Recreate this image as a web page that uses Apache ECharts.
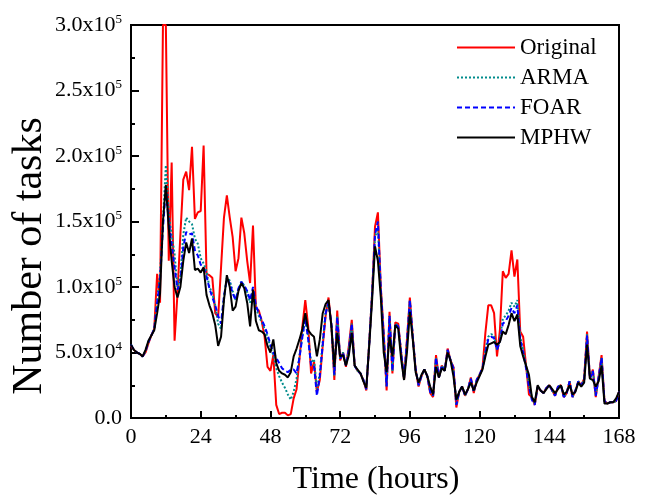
<!DOCTYPE html>
<html>
<head>
<meta charset="utf-8">
<script src="https://cdn.jsdelivr.net/npm/echarts@6/dist/echarts.min.js"></script>
<style>html,body{margin:0;padding:0;background:#fff}#c{width:648px;height:496px}</style>
</head>
<body>
<div id="c"></div>
<script>
var xTicks = [0, 24, 48, 72, 96, 120, 144, 168];
var yTickMant = ['0.0', '5.0', '1.0', '1.5', '2.0', '2.5', '3.0'];
var yTickExp = ['', '4', '5', '5', '5', '5', '5'];
var seriesNames = ['Original', 'ARMA', 'FOAR', 'MPHW'];

var original = [
55000,52000,50000,49000,47000,50000,57000,63000,68000,110000,
88000,300000,300000,120000,195000,59000,95000,140000,182000,188000,
174000,207000,152000,157000,158000,208000,110000,109000,107000,80000,
77000,115000,153000,170000,153000,138000,112000,122000,153000,141000,
120000,103000,147000,84000,82000,74000,62000,39000,36000,48000,
10000,3000,4000,4000,2000,3000,15000,22000,45000,70000,
90000,70000,34000,43000,20000,29000,55000,78000,92000,70000,
29000,82000,44000,50000,39000,55000,75000,40000,36000,34000,
29000,21000,57000,95000,146000,157000,100000,65000,21000,81000,
34000,73000,72000,50000,29000,60000,92000,62000,37000,24000,
32000,37000,32000,19000,16000,48000,31000,40000,36000,53000,
44000,39000,8000,20000,24000,17000,22000,31000,19000,29000,
33000,38000,65000,86000,86000,80000,47000,67000,112000,107000,
110000,128000,108000,121000,66000,62000,40000,18000,16000,10000,
24000,21000,19000,23000,25000,21000,17000,24000,25000,16000,
19000,28000,16000,21000,28000,25000,30000,66000,30000,37000,
16000,32000,48000,13000,11000,12000,12000,13000,20000
];

var arma = [
56000,52000,50000,49000,47000,51000,58000,63000,68000,90000,
110000,150000,193000,155000,140000,125000,100000,108000,140000,153000,
150000,148000,137000,133000,122000,118000,112000,100000,95000,86000,
72000,68000,92000,107000,105000,97000,90000,98000,104000,101000,
96000,88000,98000,84000,78000,73000,68000,62000,54000,48000,
38000,32000,27000,23000,18000,14000,20000,30000,48000,62000,
76000,62000,42000,45000,22000,34000,58000,80000,88000,70000,
32000,78000,45000,50000,40000,53000,72000,40000,36000,34000,
29000,22000,57000,95000,138000,145000,98000,62000,24000,78000,
36000,72000,70000,50000,30000,58000,90000,62000,37000,25000,
32000,37000,32000,20000,17000,46000,31000,40000,36000,52000,
44000,38000,10000,20000,24000,17000,22000,30000,20000,29000,
33000,38000,52000,62000,64000,63000,52000,60000,76000,78000,
82000,88000,85000,90000,62000,52000,40000,25000,16000,11000,
24000,21000,19000,23000,25000,21000,17000,24000,25000,16000,
19000,28000,16000,21000,28000,25000,29000,64000,30000,36000,
17000,31000,46000,13000,11000,12000,12000,13000,20000
];

var foar = [
56000,52000,50000,49000,47000,51000,58000,63000,68000,88000,
105000,145000,175000,150000,132000,115000,98000,104000,130000,142000,
140000,141000,128000,124000,117000,115000,108000,99000,92000,86000,
78000,72000,93000,106000,103000,95000,90000,99000,104000,101000,
97000,90000,100000,86000,80000,75000,70000,64000,56000,50000,
46000,42000,38000,36000,35000,37000,37000,34000,46000,62000,
76000,60000,40000,40000,17000,32000,56000,80000,88000,72000,
33000,77000,45000,50000,40000,52000,72000,40000,36000,34000,
29000,22000,56000,94000,140000,150000,98000,63000,24000,78000,
36000,72000,70000,50000,30000,58000,90000,62000,37000,25000,
32000,37000,32000,20000,17000,46000,31000,40000,36000,52000,
44000,38000,10000,20000,24000,17000,22000,30000,20000,29000,
33000,38000,50000,60000,62000,61000,52000,58000,72000,74000,
78000,84000,80000,86000,60000,50000,38000,24000,14000,10000,
24000,21000,19000,23000,25000,21000,17000,24000,25000,16000,
19000,28000,16000,21000,28000,25000,29000,63000,30000,36000,
17000,31000,46000,13000,11000,12000,12000,13000,20000
];

var mphw = [
56000,52000,50000,49000,47000,52000,59000,63000,67000,80000,
95000,150000,178000,145000,120000,100000,92000,100000,120000,134000,
126000,137000,113000,114000,111000,115000,94000,86000,80000,71000,
55000,62000,90000,109000,100000,82000,85000,97000,103000,99000,
88000,70000,98000,74000,67000,66000,64000,55000,50000,60000,
42000,36000,34000,33000,31000,35000,47000,53000,60000,68000,
80000,67000,64000,62000,47000,60000,80000,87000,90000,70000,
39000,65000,47000,48000,40000,48000,65000,40000,37000,34000,
28000,23000,55000,90000,131000,120000,92000,50000,35000,62000,
47000,71000,68000,45000,29000,50000,81000,60000,35000,27000,
33000,37000,32000,24000,18000,39000,31000,38000,36000,50000,
44000,32000,14000,20000,24000,18000,22000,27000,21000,27000,
32000,37000,47000,56000,57000,58000,56000,58000,66000,64000,
71000,80000,74000,79000,55000,47000,40000,33000,16000,12000,
25000,21000,19000,22000,25000,22000,19000,22000,25000,18000,
20000,25000,18000,20000,27000,24000,27000,56000,30000,29000,
24000,28000,40000,11000,11000,12000,12000,15000,20000
];

function pairs(arr) { return arr.map(function (v, i) { return [i, v]; }); }

var FONT = 'Liberation Serif';
var chart = echarts.init(document.getElementById('c'), null, { renderer: 'canvas' });
chart.setOption({
  animation: false,
  backgroundColor: '#fff',
  grid: { left: 131, right: 29, top: 25, bottom: 78, show: true, borderColor: '#000', borderWidth: 2, backgroundColor: 'transparent' },
  legend: {
    orient: 'vertical', left: 456, top: 36, padding: 0, itemGap: 7,
    itemWidth: 58, itemHeight: 14,
    itemStyle: { opacity: 0 },
    textStyle: { fontFamily: FONT, fontSize: 23, color: '#000', lineHeight: 23 },
    data: seriesNames
  },
  xAxis: {
    type: 'value', min: xTicks[0], max: xTicks[xTicks.length - 1], interval: 24,
    axisLine: { show: true, lineStyle: { color: '#000', width: 2 } },
    axisTick: { show: true, inside: true, length: 7, lineStyle: { color: '#000', width: 2 } },
    minorTick: { show: true, splitNumber: 2, length: 3, lineStyle: { color: '#000', width: 2 } },
    splitLine: { show: false },
    axisLabel: { fontFamily: FONT, fontSize: 22, color: '#000', margin: 8,
      formatter: function (v) { return xTicks.indexOf(v) >= 0 ? String(v) : ''; } }
  },
  yAxis: {
    type: 'value', min: 0, max: 300000, interval: 50000,
    axisLine: { show: true, lineStyle: { color: '#000', width: 2 } },
    axisTick: { show: true, inside: true, length: 8, lineStyle: { color: '#000', width: 2 } },
    minorTick: { show: true, splitNumber: 2, length: 4, lineStyle: { color: '#000', width: 2 } },
    splitLine: { show: false },
    axisLabel: {
      margin: 9,
      formatter: function (v) {
        var k = Math.round(v / 50000);
        return yTickExp[k] ? '{m|' + yTickMant[k] + 'x10}{e|' + yTickExp[k] + '}' : '{m|' + yTickMant[k] + '}';
      },
      rich: {
        m: { fontFamily: FONT, fontSize: 22, color: '#000', lineHeight: 24 },
        e: { fontFamily: FONT, fontSize: 13, color: '#000', verticalAlign: 'top', lineHeight: 14 }
      }
    }
  },
  graphic: [
    { type: 'text', x: 376, y: 480, style: { text: 'Time (hours)', fontFamily: FONT, fontSize: 32, fill: '#000', textAlign: 'center', textVerticalAlign: 'middle' } },
    { type: 'text', x: 30, y: 256, rotation: Math.PI / 2, style: { text: 'Number of tasks', fontFamily: FONT, fontSize: 42, fill: '#000', textAlign: 'center', textVerticalAlign: 'middle' } }
  ],
  series: [
    { name: 'Original', type: 'line', data: pairs(original), symbol: 'none', lineStyle: { color: '#ff0000', width: 2 }, itemStyle: { color: '#ff0000' }, z: 2 },
    { name: 'ARMA', type: 'line', data: pairs(arma), symbol: 'none', lineStyle: { color: '#008b8b', width: 2, type: [2, 2] }, itemStyle: { color: '#008b8b' }, z: 3 },
    { name: 'FOAR', type: 'line', data: pairs(foar), symbol: 'none', lineStyle: { color: '#0000ff', width: 2, type: [5, 3] }, itemStyle: { color: '#0000ff' }, z: 4 },
    { name: 'MPHW', type: 'line', data: pairs(mphw), symbol: 'none', lineStyle: { color: '#000000', width: 2 }, itemStyle: { color: '#000' }, z: 5 }
  ]
});
</script>
</body>
</html>
